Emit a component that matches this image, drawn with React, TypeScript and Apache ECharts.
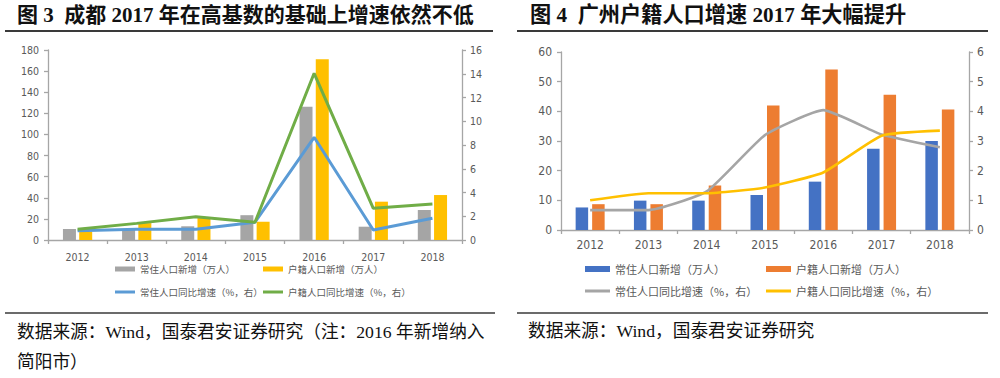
import React, { useEffect, useRef } from "react";
import * as echarts from "echarts";

const years = ["2012", "2013", "2014", "2015", "2016", "2017", "2018"];

// 图3 成都
const cdResidentAdd = [10.4, 10, 13, 23.5, 126.3, 12.6, 28.4];
const cdHukouAdd = [8, 16, 21, 17.3, 171.2, 36.3, 42.6];
const cdResidentYoY = [0.78, 0.9, 0.9, 1.5, 8.65, 0.84, 1.83];
const cdHukouYoY = [0.9, 1.4, 1.96, 1.5, 14.04, 2.67, 3.03];

// 图4 广州
const gzResidentAdd = [7.6, 9.9, 9.9, 11.8, 16.3, 27.4, 30];
const gzHukouAdd = [8.7, 8.7, 15, 42, 54.1, 45.6, 40.6];
const gzResidentYoY = [0.67, 0.67, 1.3, 3.2, 4.04, 3.22, 2.79];
const gzHukouYoY = [1.0, 1.24, 1.24, 1.43, 1.94, 3.18, 3.35];

const seriesNames = [
  "常住人口新增（万人）",
  "户籍人口新增（万人）",
  "常住人口同比增速（%，右）",
  "户籍人口同比增速（%，右）",
];

const leftTitle = "图 3  成都 2017 年在高基数的基础上增速依然不低";
const rightTitle = "图 4  广州户籍人口增速 2017 年大幅提升";
const leftSource1 = "数据来源：Wind，国泰君安证券研究（注：2016 年新增纳入";
const leftSource2 = "简阳市）";
const rightSource = "数据来源：Wind，国泰君安证券研究";

const AXIS_FONT = "'Liberation Sans Narrow', 'DejaVu Sans Condensed', Roboto, sans-serif";
const CJK_FONT = "'Noto Sans CJK SC', sans-serif";
const SERIF_FONT = "'Liberation Serif', 'Noto Sans CJK SC', serif";

function text(x: number, y: number, t: string, size: number, bold = false) {
  return {
    type: "text",
    x,
    y,
    silent: true,
    style: {
      text: t,
      fill: "#111",
      fontSize: size,
      fontWeight: bold ? "bold" : "normal",
      fontFamily: SERIF_FONT,
      textAlign: "left",
      textVerticalAlign: "middle",
      align: "left",
      verticalAlign: "middle",
    },
  };
}

function rule(x1: number, x2: number, y: number, w: number) {
  return {
    type: "line",
    silent: true,
    shape: { x1, y1: y, x2, y2: y },
    style: { stroke: "#3a3a3a", lineWidth: w },
  };
}

function legendItem(
  name: string,
  left: number,
  rowY: number,
  w: number,
  h: number,
  fontSize: number
) {
  return {
    show: true,
    left,
    top: rowY - 7,
    padding: 0,
    itemGap: 0,
    itemWidth: w,
    itemHeight: h,
    icon: "rect",
    selectedMode: false,
    data: [{ name, icon: "rect" }],
    textStyle: {
      fontSize,
      color: "#595959",
      fontFamily: CJK_FONT,
      lineHeight: 14,
      height: 14,
    },
  };
}

type Cfg = {
  grid: any;
  leftMax: number;
  leftInt: number;
  rightMax: number;
  rightInt: number;
  axisFont: number;
  xMargin: number;
  bars: number[][];
  lines: number[][];
  colors: string[];
  barWidth: number;
  barGap: string;
  lineWidth: number;
  smooth: number | boolean;
  legendX: number[];
  legendY: number[];
  legendFont: number;
  swW: number;
  swBarH: number;
  swLineH: number;
  graphics: any[];
};

function buildOption(c: Cfg) {
  const axisLine = { show: true, lineStyle: { color: "#a6a6a6", width: 1.3 } };
  const axisTick = { show: true, length: 4, lineStyle: { color: "#a6a6a6", width: 1.3 } };
  const label = { color: "#595959", fontSize: c.axisFont, fontFamily: AXIS_FONT };
  return {
    animation: false,
    backgroundColor: "#ffffff",
    grid: c.grid,
    xAxis: {
      type: "category",
      data: years,
      axisLine,
      axisTick: { ...axisTick, length: 4 },
      axisLabel: { ...label, margin: c.xMargin, interval: 0 },
      splitLine: { show: false },
    },
    yAxis: [
      {
        type: "value",
        min: 0,
        max: c.leftMax,
        interval: c.leftInt,
        axisLine,
        axisTick: { ...axisTick, inside: false },
        axisLabel: { ...label, margin: 9 },
        splitLine: { show: false },
      },
      {
        type: "value",
        position: "right",
        min: 0,
        max: c.rightMax,
        interval: c.rightInt,
        axisLine,
        axisTick: { ...axisTick, inside: false },
        axisLabel: { ...label, margin: 8 },
        splitLine: { show: false },
      },
    ],
    legend: [
      legendItem(seriesNames[0], c.legendX[0], c.legendY[0], c.swW, c.swBarH, c.legendFont),
      legendItem(seriesNames[1], c.legendX[1], c.legendY[0], c.swW, c.swBarH, c.legendFont),
      legendItem(seriesNames[2], c.legendX[0], c.legendY[1], c.swW, c.swLineH, c.legendFont),
      legendItem(seriesNames[3], c.legendX[1], c.legendY[1], c.swW, c.swLineH, c.legendFont),
    ],
    series: [
      {
        name: seriesNames[0],
        type: "bar",
        data: c.bars[0],
        barWidth: c.barWidth,
        barGap: c.barGap,
        itemStyle: { color: c.colors[0] },
      },
      {
        name: seriesNames[1],
        type: "bar",
        data: c.bars[1],
        barWidth: c.barWidth,
        barGap: c.barGap,
        itemStyle: { color: c.colors[1] },
      },
      {
        name: seriesNames[2],
        type: "line",
        yAxisIndex: 1,
        data: c.lines[0],
        showSymbol: false,
        symbol: "none",
        smooth: c.smooth,
        itemStyle: { color: c.colors[2] },
        lineStyle: { color: c.colors[2], width: c.lineWidth },
      },
      {
        name: seriesNames[3],
        type: "line",
        yAxisIndex: 1,
        data: c.lines[1],
        showSymbol: false,
        symbol: "none",
        smooth: c.smooth,
        itemStyle: { color: c.colors[3] },
        lineStyle: { color: c.colors[3], width: c.lineWidth },
      },
    ],
    graphic: c.graphics,
  };
}

const leftCfg: Cfg = {
  grid: { left: 48, right: 38, top: 50, bottom: 138 },
  leftMax: 180,
  leftInt: 20,
  rightMax: 16,
  rightInt: 2,
  axisFont: 10.5,
  xMargin: 11,
  bars: [cdResidentAdd, cdHukouAdd],
  lines: [cdResidentYoY, cdHukouYoY],
  colors: ["#a5a5a5", "#ffc000", "#5b9bd5", "#70ad47"],
  barWidth: 13,
  barGap: "25%",
  lineWidth: 3,
  smooth: false,
  legendX: [115, 263],
  legendY: [269, 292],
  legendFont: 9.5,
  swW: 20,
  swBarH: 5,
  swLineH: 3,
  graphics: [
    text(17, 15, leftTitle, 21, true),
    rule(5, 493, 31, 2),
    rule(5, 495, 313, 1.6),
    text(17, 332, leftSource1, 17.7),
    text(17, 362, leftSource2, 17.7),
  ],
};

const rightCfg: Cfg = {
  grid: { left: 61, right: 31, top: 52, bottom: 148 },
  leftMax: 60,
  leftInt: 10,
  rightMax: 6,
  rightInt: 1,
  axisFont: 12,
  xMargin: 9,
  bars: [gzResidentAdd, gzHukouAdd],
  lines: [gzResidentYoY, gzHukouYoY],
  colors: ["#4472c4", "#ed7d31", "#a5a5a5", "#ffc000"],
  barWidth: 12.5,
  barGap: "32%",
  lineWidth: 2.6,
  smooth: 0.15,
  legendX: [85, 266],
  legendY: [269, 291],
  legendFont: 11,
  swW: 25,
  swBarH: 6,
  swLineH: 3,
  graphics: [
    text(30, 15, rightTitle, 21.2, true),
    rule(17, 488, 31, 2),
    rule(17, 488, 313, 1.6),
    text(28, 331, rightSource, 17.7),
  ],
};

function Chart({ cfg, left }: { cfg: Cfg; left: number }) {
  const ref = useRef<HTMLDivElement>(null);
  useEffect(() => {
    if (!ref.current) return;
    const chart = echarts.init(ref.current, undefined, { renderer: "svg" });
    chart.setOption(buildOption(cfg) as any);
    return () => chart.dispose();
  }, [cfg]);
  return (
    <div
      ref={ref}
      style={{ position: "absolute", left, top: 0, width: 500, height: 378 }}
    />
  );
}

export default function App() {
  return (
    <div
      style={{
        position: "fixed",
        left: 0,
        top: 0,
        width: 1000,
        height: 378,
        background: "#ffffff",
        overflow: "hidden",
      }}
    >
      <Chart cfg={leftCfg} left={0} />
      <Chart cfg={rightCfg} left={500} />
    </div>
  );
}
